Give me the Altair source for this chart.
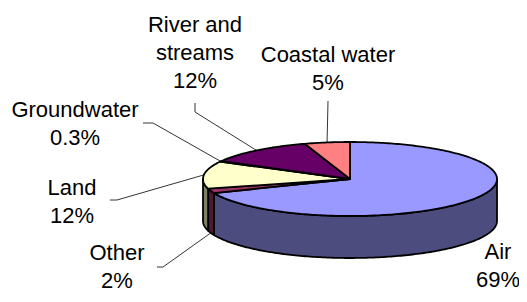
import math
import altair as alt

# ---- data ----
categories = ["Air", "Other", "Land", "Groundwater", "River and streams", "Coastal water"]
values = [69, 2, 12, 0.3, 12, 5]
label_names = ["Air", "Other", "Land", "Groundwater", "River and\nstreams", "Coastal water"]
pct_labels = ["69%", "2%", "12%", "0.3%", "12%", "5%"]
top_colors = ["#9999FF", "#993366", "#FFFFCC", "#CCFFFF", "#660066", "#FF8080"]

# ---- layout (chart-local pixels) ----
CX, CY, RX, RY, DEPTH = 342, 171, 147, 37, 42
W, H = 511, 286
label_anchor = {  # first-line baseline, centre x
    "Air": (490, 251),
    "Other": (109, 252),
    "Land": (64, 187),
    "Groundwater": (67, 109),
    "River and streams": (187, 24),
    "Coastal water": (320, 54),
}
leader_start = {  # points from the label toward the pie
    "Other": [(149, 259), (155, 259)],
    "Land": [(102, 192), (109, 192)],
    "Groundwater": [(135, 115), (145, 115)],
    "River and streams": [(187, 95), (187, 104)],
    "Coastal water": [(320, 93)],
}


def darker(hexcol, f=0.5):
    r, g, b = (int(hexcol[i:i + 2], 16) for i in (1, 3, 5))
    return "#%02x%02x%02x" % (int(r * f), int(g * f), int(b * f))


def pt(t_deg, dz=0.0):
    t = math.radians(t_deg)
    return [CX + RX * math.sin(t), CY - RY * math.cos(t) + dz]


def arc(a, b, dz=0.0, step=1.0):
    n = max(2, int(abs(b - a) / step) + 2)
    return [pt(a + (b - a) * i / (n - 1), dz) for i in range(n)]


total = sum(values)
starts, ends = [], []
acc = 0.0
for v in values:
    starts.append(acc / total * 360)
    acc += v
    ends.append(acc / total * 360)

side_feats, top_feats, line_feats, text_rows = [], [], [], []
for cat, a, b, col in zip(categories, starts, ends, top_colors):
    lo, hi = max(a, 90), min(b, 270)
    if hi > lo:
        ring = arc(lo, hi) + arc(hi, lo, DEPTH)
        ring.append(ring[0])
        side_feats.append({"type": "Feature", "properties": {"fill": darker(col), "cat": cat},
                           "geometry": {"type": "Polygon", "coordinates": [ring]}})
    ring = [[CX, CY]] + arc(a, b) + [[CX, CY]]
    top_feats.append({"type": "Feature", "properties": {"fill": col, "cat": cat},
                      "geometry": {"type": "Polygon", "coordinates": [ring]}})

for cat, name, pct, a, b in zip(categories, label_names, pct_labels, starts, ends):
    x, y = label_anchor[cat]
    text_rows.append({"lon": x, "lat": y, "text": name + "\n" + pct})
    if cat in leader_start:
        m = (a + b) / 2
        dz = DEPTH if 90 < m < 270 else 0
        coords = [list(p) for p in leader_start[cat]] + [pt(m, dz)]
        line_feats.append({"type": "Feature", "properties": {"cat": cat},
                           "geometry": {"type": "LineString", "coordinates": coords}})

sides = alt.Chart(alt.Data(values=side_feats)).mark_geoshape(
    stroke="black", strokeWidth=1.8, strokeJoin="round"
).encode(fill=alt.Fill("properties.fill:N", scale=None))

tops = alt.Chart(alt.Data(values=top_feats)).mark_geoshape(
    stroke="black", strokeWidth=1.8, strokeJoin="round"
).encode(fill=alt.Fill("properties.fill:N", scale=None))

leaders = alt.Chart(alt.Data(values=line_feats)).mark_geoshape(
    filled=False, stroke="#000000", strokeWidth=0.8
)

labels = alt.Chart(alt.Data(values=text_rows)).mark_text(
    font="Liberation Sans", fontSize=22, lineBreak="\n", lineHeight=28,
    align="center", baseline="alphabetic", color="black"
).encode(longitude="lon:Q", latitude="lat:Q", text="text:N")

chart = alt.layer(sides, tops, leaders, labels).project(
    type="identity", scale=1, translate=[0, 0]
).properties(
    width=W, height=H, padding=0, autosize="none"
).configure_view(stroke=None)

chart.save("out.html", embed_options={"renderer": "svg", "actions": False})
